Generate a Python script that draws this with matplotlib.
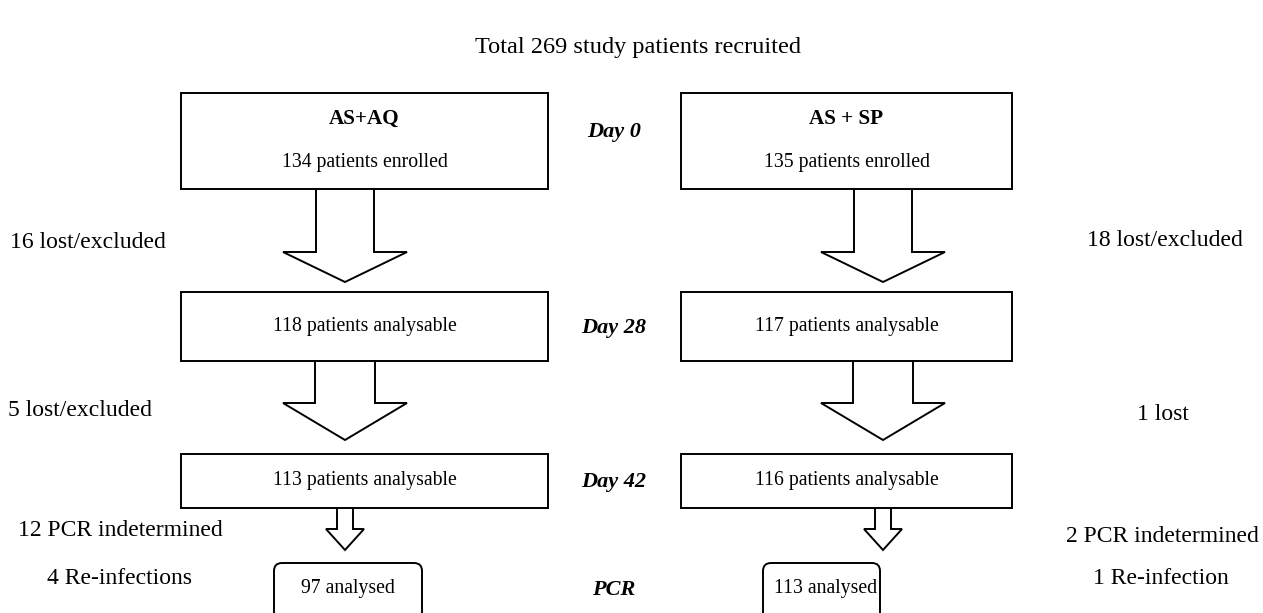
import matplotlib.pyplot as plt
from matplotlib.patches import Rectangle, FancyBboxPatch, Polygon

# data
total = 269
arms = ['AS+AQ', 'AS + SP']
enrolled = [134, 135]
day28 = [118, 117]
day42 = [113, 116]
pcr_analysed = [97, 113]
lost_28 = ['16 lost/excluded', '18 lost/excluded']
lost_42 = ['5 lost/excluded', '1 lost']
pcr_indet = ['12 PCR indetermined', '2 PCR indetermined']
reinf = ['4 Re-infections', '1 Re-infection']
stages = ['Day 0', 'Day 28', 'Day 42', 'PCR']

plt.rcParams['font.family'] = ['Liberation Serif', 'DejaVu Serif']
fs = 14.2      # text in boxes
fs_side = 17   # notes at the sides
lw = 1.4

fig = plt.figure(figsize=(12.63, 6.13), dpi=100)
ax = fig.add_axes([0, 0, 1, 1])
ax.set_xlim(0, 1263)
ax.set_ylim(613, 0)
ax.axis('off')


def box(x0, x1, y0, y1):
    ax.add_patch(Rectangle((x0, y0), x1 - x0, y1 - y0, fill=False, lw=lw, ec='black'))


def arrow(cx, sw, hw, y0, y1, tip):
    pts = [(cx - sw / 2, y0), (cx - sw / 2, y1), (cx - hw / 2, y1), (cx, tip),
           (cx + hw / 2, y1), (cx + sw / 2, y1), (cx + sw / 2, y0)]
    ax.add_patch(Polygon(pts, closed=False, fill=False, lw=lw, ec='black', joinstyle='miter'))


ax.text(638, 47, f'Total {total} study patients recruited', ha='center', va='center', fontsize=17.5)

cols = [(181, 548, 345), (681, 1012, 883)]
for i, (x0, x1, cx) in enumerate(cols):
    box(x0, x1, 93, 189)
    ax.text((x0 + x1) / 2, 119, arms[i], ha='center', va='center', fontsize=fs + 1, fontweight='bold')
    ax.text((x0 + x1) / 2, 162, f'{enrolled[i]} patients enrolled', ha='center', va='center', fontsize=fs)
    arrow(cx, 58, 124, 189, 252, 282)

    box(x0, x1, 292, 361)
    ax.text((x0 + x1) / 2, 326, f'{day28[i]} patients analysable', ha='center', va='center', fontsize=fs)
    arrow(cx, 60, 124, 361, 403, 440)

    box(x0, x1, 454, 508)
    ax.text((x0 + x1) / 2, 480, f'{day42[i]} patients analysable', ha='center', va='center', fontsize=fs)
    arrow(cx, 16, 38, 508, 529, 550)

rb = [(274, 422), (763, 880)]
for i, (x0, x1) in enumerate(rb):
    ax.add_patch(FancyBboxPatch((x0, 563), x1 - x0, 70, boxstyle='round,pad=0,rounding_size=8',
                                fill=False, lw=lw, ec='black'))
ax.text(348, 588, f'{pcr_analysed[0]} analysed', ha='center', va='center', fontsize=fs)
ax.text(826, 588, f'{pcr_analysed[1]} analysed', ha='center', va='center', fontsize=fs)

for s, y in zip(stages, [132, 328, 482, 590]):
    ax.text(614, y, s, ha='center', va='center', fontsize=16, fontweight='bold', style='italic')

ax.text(10, 243, lost_28[0], ha='left', va='center', fontsize=fs_side)
ax.text(8, 410, lost_42[0], ha='left', va='center', fontsize=fs_side)
ax.text(18, 531, pcr_indet[0], ha='left', va='center', fontsize=fs_side)
ax.text(47, 578, reinf[0], ha='left', va='center', fontsize=fs_side)
ax.text(1087, 240, lost_28[1], ha='left', va='center', fontsize=fs_side)
ax.text(1163, 414, lost_42[1], ha='center', va='center', fontsize=fs_side)
ax.text(1259, 536, pcr_indet[1], ha='right', va='center', fontsize=fs_side)
ax.text(1093, 578, reinf[1], ha='left', va='center', fontsize=fs_side)

fig.savefig('out.png', dpi=100)
